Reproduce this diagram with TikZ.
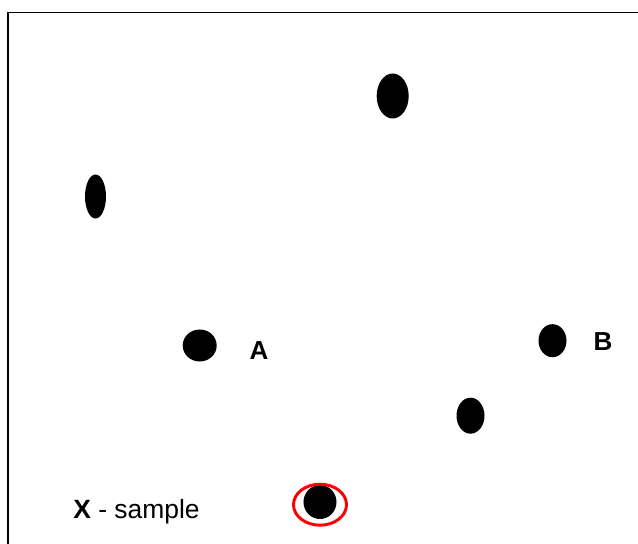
\documentclass[tikz,border=0pt]{standalone}
\usepackage{fontspec}
\setmainfont{Liberation Sans}
\usetikzlibrary{shapes.geometric}
\usetikzlibrary{positioning}
\tikzset{dot/.style = {ellipse, fill=black, inner sep=0pt},
         ring/.style = {ellipse, draw=red, line width=2.1pt, inner sep=0pt},
         lbl/.style = {font=\fontsize{18.5}{22}\selectfont\bfseries, inner sep=0pt}}

\begin{document}
\begin{tikzpicture}[x=0.025cm, y=-0.025cm]
        \useasboundingbox (0,0) rectangle (638,544);
        \clip (0,0) rectangle (638,544);
        \draw[line width=1.4pt] (8.2,12.5) rectangle (660,570);
        \node[dot, minimum width=0.8cm, minimum height=1.125cm] (top) at (392.7,96) {};
        \node[dot, minimum width=0.525cm, minimum height=1.1cm] (left) at (95.5,196.5) {};
        \node[dot, minimum width=0.85cm, minimum height=0.8cm] (dotA) at (199.7,345.5) {};
        \node[dot, minimum width=0.7cm, minimum height=0.825cm] (dotB) at (552.5,340.7) {};
        \node[dot, minimum width=0.7cm, minimum height=0.9cm] (low) at (470.5,415.7) {};
        \node[dot, minimum width=0.825cm, minimum height=0.85cm] (sample) at (320,502) {};
        \node[ring, minimum width=1.325cm, minimum height=1.025cm] (mark) at (320,504.7) {};
        \node[lbl] (labA) at (259,350.5) {A};
        \node[lbl] (labB) at (603,342) {B};
        \node[anchor=base west, inner sep=0pt, font=\fontsize{18.8}{22}\selectfont] (legend) at (73,518) {\textbf{X} - sample};
    \end{tikzpicture}
\end{document}
